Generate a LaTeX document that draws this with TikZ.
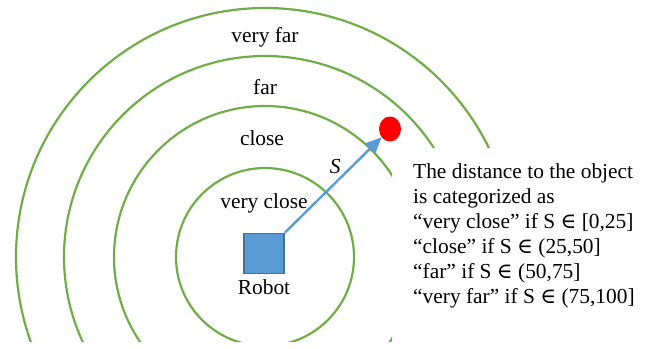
\documentclass[tikz,border=0pt]{standalone}
\usepackage{fontspec}
\setmainfont{Liberation Serif}
\newfontfamily\symfont{DejaVu Serif}
\usetikzlibrary{arrows.meta,positioning,shapes.geometric}
\definecolor{RingGreen}{RGB}{112,173,71}
\definecolor{RobotBlue}{RGB}{91,155,213}
\definecolor{RobotEdge}{RGB}{65,113,156}
\definecolor{ObjectRed}{RGB}{255,0,0}
\newcommand{\elemof}{{\symfont ∈}}
\tikzset{
  ring/.style={draw=RingGreen, line width=2.2pt},
  zone/.style={anchor=base, inner sep=0pt, font=\fontsize{21.4}{25}\selectfont},
}

\begin{document}
\begin{tikzpicture}[x=1pt, y=-1pt]
\useasboundingbox (0,0) rectangle (647,348);
\coordinate (centre) at (265,257);
% rings, cut at the bottom and behind the text
\begin{scope}
\clip (0,0) -- (647,0) -- (647,148) -- (392,148) -- (392,342) -- (0,342) -- cycle;
\foreach \r in {89,151,201,249}
  \draw[ring] (centre) circle[radius=\r pt];
\end{scope}
\node[zone] (veryfar) at (265,42) {very far};
\node[zone] (far) at (265,94) {far};
\node[zone] (close) at (262,145) {close};
\node[zone] (veryclose) at (264,208) {very close};
% robot and object
\node[draw=RobotEdge, fill=RobotBlue, line width=1.6pt,
      minimum size=40pt, inner sep=0pt] (robot) at (264,253.5) {};
\node[zone, below=5.5pt of robot] (robotlabel) {Robot};
\node[ellipse, fill=ObjectRed, minimum width=22pt, minimum height=25pt,
      inner sep=0pt] (object) at (390,129) {};
\draw[RobotBlue, line width=2.4pt, -{Triangle[length=16pt,width=14pt]}]
  (robot.north east) -- (object)
  node[pos=0.6, above left=1.5pt, inner sep=0pt, text=black,
       font=\fontsize{21.4}{25}\selectfont\itshape] (dist) {S};
% categories
\node[anchor=north west, inner sep=0pt, align=left,
      font=\fontsize{21.4}{25}\selectfont] (rules) at (413,163) {
The distance to the object\\
is categorized as\\
“very close” if S \elemof{} [0,25]\\
“close” if S \elemof{} (25,50]\\
“far” if S \elemof{} (50,75]\\
“very far” if S \elemof{} (75,100]};
\end{tikzpicture}
\end{document}
